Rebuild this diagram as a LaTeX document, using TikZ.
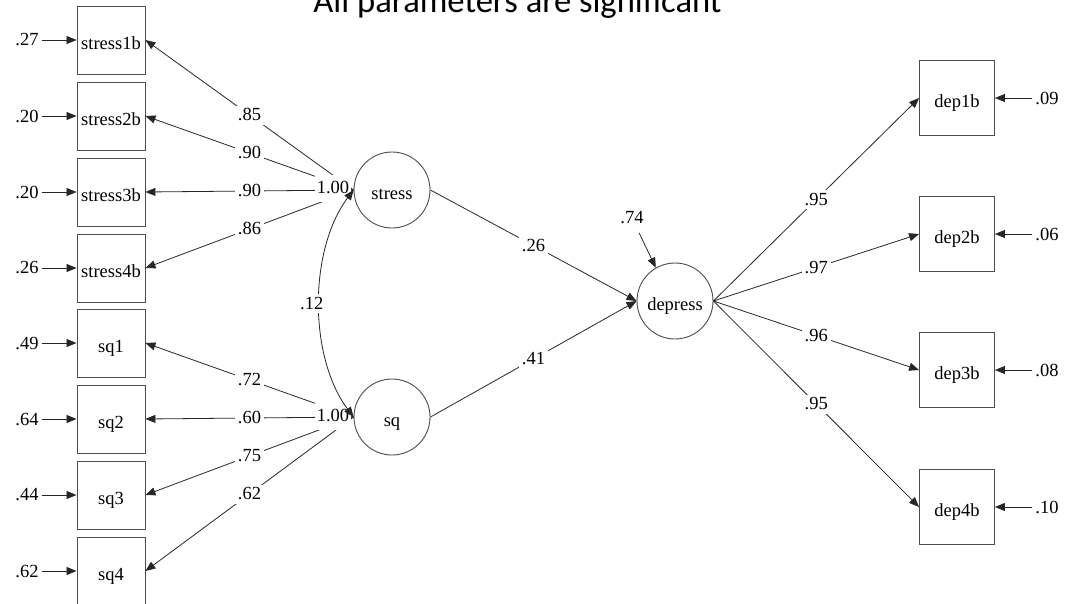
\documentclass[tikz,border=0pt]{standalone}
\usepackage{fontspec}
\setmainfont{Liberation Serif}
\newfontfamily\titlefont{Carlito}
\usetikzlibrary{arrows.meta}
\begin{document}
\begin{tikzpicture}[x=1pt,y=-1pt,
  every node/.style={font=\fontsize{18.5}{20}\selectfont},
  obs/.style={draw=black!70, line width=0.9pt, minimum width=68pt, minimum height=68pt, inner sep=0pt, text height=19pt, text depth=0pt},
  obsr/.style={obs, minimum width=75pt, minimum height=75pt},
  lat/.style={circle, draw=black!70, line width=0.9pt, minimum size=76pt, inner sep=0pt, text height=19pt, text depth=0pt},
  path/.style={draw=black!85, line width=0.8pt, -{Triangle[length=10pt,width=8pt]}},
  biarrow/.style={draw=black!85, line width=0.8pt, {Triangle[length=10pt,width=8pt]}-{Triangle[length=10pt,width=8pt]}},
  lab/.style={fill=white, inner xsep=3pt, inner ysep=3pt, text height=12pt, text depth=1pt},
  varlab/.style={fill=white, inner xsep=2pt, inner ysep=7pt, text height=12pt, text depth=1pt},
  errlab/.style={inner sep=3pt}]
\useasboundingbox (0,0) rectangle (1065,603);
\clip (0,0) rectangle (1065,603);

% title
\node[font=\titlefont\fontsize{34.6}{40}\selectfont, anchor=base, inner sep=0pt] (title) at (517.5,12) {All parameters are significant};

% observed indicators (left)
\node[obs] (s1) at (111,40) {stress1b};
\node[obs] (s2) at (111,116) {stress2b};
\node[obs] (s3) at (111,192) {stress3b};
\node[obs] (s4) at (111,268) {stress4b};
\node[obs] (q1) at (111,343) {sq1};
\node[obs] (q2) at (111,419) {sq2};
\node[obs] (q3) at (111,495) {sq3};
\node[obs] (q4) at (111,571) {sq4};

% latent variables
\node[lat] (stress) at (392,190) {stress};
\node[lat] (sq) at (392,417) {sq};
\node[lat] (depress) at (675,301) {depress};

% observed indicators (right)
\node[obsr] (d1) at (957,98) {dep1b};
\node[obsr] (d2) at (957,234) {dep2b};
\node[obsr] (d3) at (957,370) {dep3b};
\node[obsr] (d4) at (957,507) {dep4b};

% error labels left
\node[errlab] (es1) at (27,40) {.27};
\node[errlab] (es2) at (27,116) {.20};
\node[errlab] (es3) at (27,192) {.20};
\node[errlab] (es4) at (27,268) {.26};
\node[errlab] (eq1) at (27,343) {.49};
\node[errlab] (eq2) at (27,419) {.64};
\node[errlab] (eq3) at (27,495) {.44};
\node[errlab] (eq4) at (27,571) {.62};
\foreach \e/\t in {es1/s1,es2/s2,es3/s3,es4/s4,eq1/q1,eq2/q2,eq3/q3,eq4/q4}
  \draw[path] (\e) -- (\t);

% error labels right
\node[errlab] (ed1) at (1047,98) {.09};
\node[errlab] (ed2) at (1047,234) {.06};
\node[errlab] (ed3) at (1047,370) {.08};
\node[errlab] (ed4) at (1047,507) {.10};
\foreach \e/\t in {ed1/d1,ed2/d2,ed3/d3,ed4/d4}
  \draw[path] (\e) -- (\t);

% loadings stress
\draw[path] (stress.west) -- node[lab]{.85} (s1.east);
\draw[path] (stress.west) -- node[lab]{.90} (s2.east);
\draw[path] (stress.west) -- node[lab]{.90} (s3.east);
\draw[path] (stress.west) -- node[lab]{.86} (s4.east);
% loadings sq
\draw[path] (sq.west) -- node[lab]{.72} (q1.east);
\draw[path] (sq.west) -- node[lab]{.60} (q2.east);
\draw[path] (sq.west) -- node[lab]{.75} (q3.east);
\draw[path] (sq.west) -- node[lab]{.62} (q4.east);

% variances of latents
\node[varlab] (vstress) at (333,188) {1.00};
\node[varlab] (vsq) at (333,416) {1.00};

% correlation
\draw[biarrow] (stress.west) .. controls +(-45,60) and +(-45,-60) .. node[lab, pos=0.5, xshift=-8pt]{.12} (sq.west);

% structural paths
\draw[path] (stress.east) -- node[lab]{.26} (depress.west);
\draw[path] (sq.east) -- node[lab]{.41} (depress.west);

% disturbance
\node[errlab] (edep) at (632,218) {.74};
\draw[path, shorten <=6pt] (edep) -- (depress.120);

% loadings depress
\draw[path] (depress.east) -- node[lab]{.95} (d1.west);
\draw[path] (depress.east) -- node[lab]{.97} (d2.west);
\draw[path] (depress.east) -- node[lab]{.96} (d3.west);
\draw[path] (depress.east) -- node[lab]{.95} (d4.west);
\end{tikzpicture}
\end{document}
